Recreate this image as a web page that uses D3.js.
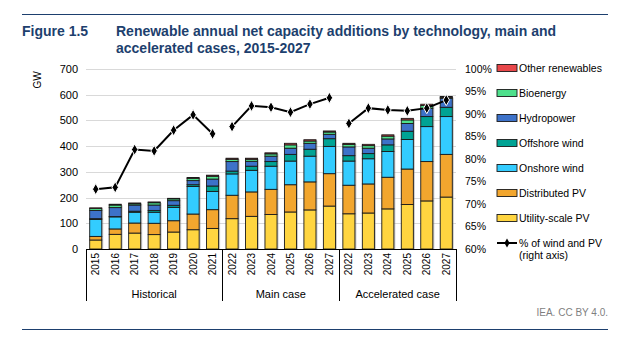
<!DOCTYPE html>
<html>
<head>
<meta charset="utf-8">
<script src="https://cdn.jsdelivr.net/npm/d3@7"></script>
<style>
  body { margin: 0; background: #fff; }
  svg { font-family: "Liberation Sans", Arial, sans-serif; }
</style>
</head>
<body>
<svg id="chart"></svg>
<script>
// categories
const years = ['2015', '2016', '2017', '2018', '2019', '2020', '2021',
    '2022', '2023', '2024', '2025', '2026', '2027',
    '2022', '2023', '2024', '2025', '2026', '2027'];
const groups = [
    { name: 'Historical', from: 0, to: 7 },
    { name: 'Main case', from: 7, to: 13 },
    { name: 'Accelerated case', from: 13, to: 19 },
];

// series values (GW)
const utilityPV = [35, 57, 62, 56, 66, 75, 80, 118, 127, 134, 144, 152, 167, 137, 140, 156, 173, 187, 202];
const distributedPV = [14, 21, 39, 44, 44, 61, 73, 91, 95, 98, 106, 109, 126, 111, 113, 123, 138, 153, 166];
const onshoreWind = [66, 47, 42, 43, 52, 107, 71, 83, 84, 90, 92, 100, 106, 94, 98, 100, 115, 136, 147];
const offshoreWind = [3, 1, 4, 7, 8, 7, 21, 11, 16, 18, 26, 27, 30, 21, 20, 26, 32, 39, 36];
const hydropower = [32, 35, 24, 21, 18, 16, 27, 37, 19, 21, 24, 23, 17, 34, 21, 23, 30, 32, 35];
const bioenergy = [8, 10, 5, 9, 7, 9, 11, 9, 8, 9, 13, 9, 9, 10, 10, 11, 14, 11, 4];
const otherRenewables = [2, 3, 3, 3, 2, 3, 4, 4, 4, 4, 6, 5, 4, 4, 5, 5, 6, 5, 3];
// share of wind and PV (%), right axis
const windPvShare = [73.3, 73.7, 82.1, 81.8, 86.4, 89.8, 85.6,
    87.2, 91.8, 91.5, 90.4, 92.2, 93.6,
    87.9, 91.3, 90.9, 90.7, 91.3, 93.1];

// tick labels
const leftTicks = [0, 100, 200, 300, 400, 500, 600, 700];
const rightTicks = [60, 65, 70, 75, 80, 85, 90, 95, 100];

const series = [
    { name: 'Utility-scale PV', values: utilityPV, color: '#ffd540' },
    { name: 'Distributed PV', values: distributedPV, color: '#f2a62e' },
    { name: 'Onshore wind', values: onshoreWind, color: '#33ccff' },
    { name: 'Offshore wind', values: offshoreWind, color: '#00a394' },
    { name: 'Hydropower', values: hydropower, color: '#3d72c9' },
    { name: 'Bioenergy', values: bioenergy, color: '#4ee08c' },
    { name: 'Other renewables', values: otherRenewables, color: '#e8474a' },
];

const titleColor = '#1d3f6e';
const width = 630;
const height = 342;
const plot = { left: 86, right: 456, top: 69, bottom: 249 };

const svg = d3.select('#chart')
    .attr('width', width)
    .attr('height', height);

// header / footer rules
svg.append('line')
    .attr('x1', 22).attr('x2', 608).attr('y1', 14.5).attr('y2', 14.5)
    .attr('stroke', titleColor).attr('stroke-width', 1);
svg.append('line')
    .attr('x1', 22).attr('x2', 608).attr('y1', 329.5).attr('y2', 329.5)
    .attr('stroke', titleColor).attr('stroke-width', 1);

svg.append('text')
    .attr('x', 22).attr('y', 36)
    .attr('fill', titleColor).attr('font-weight', 'bold').attr('font-size', 14)
    .text('Figure 1.5');
const title = svg.append('text')
    .attr('fill', titleColor).attr('font-weight', 'bold').attr('font-size', 14);
title.append('tspan').attr('x', 116).attr('y', 36)
    .text('Renewable annual net capacity additions by technology, main and');
title.append('tspan').attr('x', 116).attr('y', 53)
    .text('accelerated cases, 2015-2027');

svg.append('text')
    .attr('x', 608).attr('y', 316)
    .attr('text-anchor', 'end').attr('fill', '#7f7f7f').attr('font-size', 10)
    .text('IEA. CC BY 4.0.');

// scales
const x = d3.scaleBand()
    .domain(d3.range(years.length))
    .range([plot.left, plot.right])
    .paddingInner(0.38)
    .paddingOuter(0.19);
const y = d3.scaleLinear().domain([0, 700]).range([plot.bottom, plot.top]);
const y2 = d3.scaleLinear().domain([60, 100]).range([plot.bottom, plot.top]);

// gridlines
svg.append('g')
    .selectAll('line')
    .data(leftTicks.slice(1))
    .join('line')
    .attr('x1', plot.left).attr('x2', plot.right)
    .attr('y1', d => Math.round(y(d)) + 0.5).attr('y2', d => Math.round(y(d)) + 0.5)
    .attr('stroke', '#d9d9d9').attr('stroke-width', 1);

// left axis
const leftAxis = svg.append('g')
    .attr('transform', `translate(${plot.left - 8},0)`)
    .call(d3.axisLeft(y).tickValues(leftTicks).tickSize(0).tickPadding(0));
leftAxis.select('.domain').remove();
leftAxis.selectAll('text').attr('font-size', 11).attr('fill', '#000')
    .attr('font-family', '"Liberation Sans", Arial, sans-serif');

svg.append('text')
    .attr('transform', 'translate(41,80) rotate(-90)')
    .attr('text-anchor', 'middle').attr('font-size', 10)
    .text('GW');

// right axis
const rightAxis = svg.append('g')
    .attr('transform', `translate(${plot.right + 9},0)`)
    .call(d3.axisRight(y2).tickValues(rightTicks).tickSize(0).tickPadding(0)
        .tickFormat(d => d + '%'));
rightAxis.select('.domain').remove();
rightAxis.selectAll('text').attr('font-size', 10.5).attr('fill', '#000')
    .attr('font-family', '"Liberation Sans", Arial, sans-serif');

// stacked bars
const rows = years.map((yr, i) => {
    const row = { i };
    series.forEach(s => { row[s.name] = s.values[i]; });
    return row;
});
const stack = d3.stack().keys(series.map(s => s.name))(rows);
const totals = rows.map(r => d3.sum(series, s => r[s.name]));

// faint shadow behind each bar
svg.append('g')
    .selectAll('rect')
    .data(totals)
    .join('rect')
    .attr('x', (d, i) => x(i) + 1.5)
    .attr('y', d => y(d) + 1)
    .attr('width', x.bandwidth())
    .attr('height', d => y(0) - y(d) - 1)
    .attr('fill', '#8c8c8c').attr('opacity', 0.45);

svg.append('g')
    .selectAll('g')
    .data(stack)
    .join('g')
    .attr('fill', (d, k) => series[k].color)
    .selectAll('rect')
    .data(d => d)
    .join('rect')
    .attr('x', d => x(d.data.i))
    .attr('y', d => y(d[1]))
    .attr('width', x.bandwidth())
    .attr('height', d => y(d[0]) - y(d[1]))
    .attr('stroke', '#1a1a1a')
    .attr('stroke-width', 0.9);

// x axis
svg.append('line')
    .attr('x1', plot.left).attr('x2', plot.right)
    .attr('y1', plot.bottom + 0.5).attr('y2', plot.bottom + 0.5)
    .attr('stroke', '#000');

svg.append('g')
    .selectAll('line')
    .data([0, 7, 13, 19])
    .join('line')
    .attr('x1', d => Math.round(x.step() * d + plot.left) + 0.5)
    .attr('x2', d => Math.round(x.step() * d + plot.left) + 0.5)
    .attr('y1', plot.bottom).attr('y2', 301)
    .attr('stroke', '#000');

svg.append('g')
    .selectAll('text')
    .data(years)
    .join('text')
    .attr('transform', (d, i) => `translate(${x(i) + x.bandwidth() / 2 + 3.5},253) rotate(-90)`)
    .attr('text-anchor', 'end').attr('font-size', 10)
    .text(d => d);

svg.append('g')
    .selectAll('text')
    .data(groups)
    .join('text')
    .attr('x', d => plot.left + x.step() * (d.from + d.to) / 2)
    .attr('y', 298)
    .attr('text-anchor', 'middle').attr('font-size', 11)
    .text(d => d.name);

// share line (one segment per group)
const line = d3.line()
    .x(i => x(i) + x.bandwidth() / 2)
    .y(i => y2(windPvShare[i]));
const diamond = d3.symbol().type(d3.symbolDiamond).size(36);

groups.forEach(g => {
    const idx = d3.range(g.from, g.to);
    svg.append('path')
        .attr('d', line(idx))
        .attr('fill', 'none').attr('stroke', '#000').attr('stroke-width', 2);
    svg.append('g')
        .selectAll('path')
        .data(idx)
        .join('path')
        .attr('d', diamond)
        .attr('transform', i => `translate(${x(i) + x.bandwidth() / 2},${y2(windPvShare[i])})`)
        .attr('fill', '#000').attr('stroke', '#fff').attr('stroke-width', 1);
});

// legend
const legend = svg.append('g').attr('transform', 'translate(497,0)');
const legendItems = series.slice().reverse();
legendItems.forEach((s, k) => {
    const cy = 68 + k * 25;
    legend.append('rect')
        .attr('x', 0).attr('y', cy - 3.5).attr('width', 20).attr('height', 7)
        .attr('fill', s.color).attr('stroke', '#1a1a1a').attr('stroke-width', 0.9);
    legend.append('text')
        .attr('x', 22).attr('y', cy + 4)
        .attr('font-size', 10.5)
        .text(s.name);
});
const ly = 68 + 7 * 25;
legend.append('line')
    .attr('x1', 0).attr('x2', 20).attr('y1', ly).attr('y2', ly)
    .attr('stroke', '#000').attr('stroke-width', 2);
legend.append('path')
    .attr('d', d3.symbol().type(d3.symbolDiamond).size(24))
    .attr('transform', `translate(10,${ly})`)
    .attr('fill', '#000');
legend.append('text')
    .attr('x', 22).attr('y', ly + 4).attr('font-size', 10.5)
    .text('% of wind and PV');
legend.append('text')
    .attr('x', 22).attr('y', ly + 16).attr('font-size', 10.5)
    .text('(right axis)');
</script>
</body>
</html>
